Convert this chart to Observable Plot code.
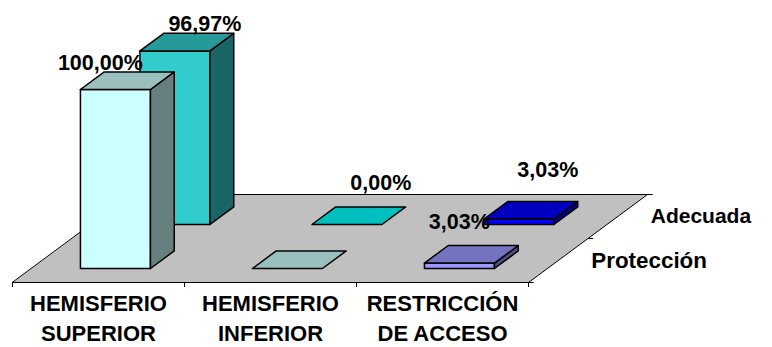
<!DOCTYPE html>
<html><head><meta charset="utf-8">
<script src="https://cdn.jsdelivr.net/npm/d3@7"></script>
<script src="https://cdn.jsdelivr.net/npm/@observablehq/plot@0.6"></script>
<style>html,body{margin:0;padding:0;background:#fff}svg{display:block}</style>
</head><body><script>
const categories = ["HEMISFERIO\nSUPERIOR", "HEMISFERIO\nINFERIOR", "RESTRICCIÓN\nDE ACCESO"];
const series = ["Protección", "Adecuada"];
const proteccion = [100, 0, 3.03];
const adecuada = [96.97, 0, 3.03];
const proteccionLabels = ["100,00%", "", "3,03%"];
const adecuadaLabels = ["96,97%", "0,00%", "3,03%"];

// Styling: [front, top, side] per series and category
const palette = [
  [["#CCFFFF","#99BFBF","#668080"],["#CCFFFF","#99BFBF","#668080"],["#9999FF","#7373BF","#4D4D80"]],
  [["#33CCCC","#269999","#1A6666"],["#00BFBF","#00BFBF","#006060"],["#0000FF","#0000BF","#000080"]]
];

// Oblique projection of (category position, depth in series, value) into chart units
const unitY = 1.79;
const depthX = 59.5 / 172, depthY = 44 / unitY;
const proj = (c, d, v) => ({x: c + d * depthX, y: v + d * depthY});
const barLeft = 0.285, barWidth = 0.407, barFront = 0.318, barDepth = 0.4;

const faces = [];
function face(id, color, corners) {
  for (const [c, d, v] of corners) faces.push({...proj(c, d, v), id, color});
}
const values = [proteccion, adecuada];
for (const s of [1, 0]) values[s].forEach((v, i) => {
  const [cf, ct, cs] = palette[s][i];
  const l = i + barLeft, r = l + barWidth, f = s + barFront, b = f + barDepth, key = `${s}-${i}`;
  if (v > 0) {
    face(key + "f", cf, [[l,f,0],[r,f,0],[r,f,v],[l,f,v]]);
    face(key + "s", cs, [[r,f,0],[r,b,0],[r,b,v],[r,f,v]]);
  }
  face(key + "t", ct, [[l,f,v],[r,f,v],[r,b,v],[l,b,v]]);
});

const floor = [[0,0],[3,0],[3,2],[0,2]].map(([c, d]) => proj(c, d, 0));
const depthTicks = [0, 1, 2].map(d => ({a: proj(3, d, 0), b: proj(3.03, d, 0)}));

// Hand placed data labels, as in the reference
const valueLabel = (s, i, text, dx, dy) => {
  const v = values[s][i], p = proj(i + barLeft + barWidth / 2, s + barFront + barDepth / 2, v);
  return Plot.text([p], {x: "x", y: "y", text: () => text, dx, dy, fontSize: 21.5, fontWeight: "bold", fill: "#000"});
};

const chart = Plot.plot({
  width: 772, height: 347, marginLeft: 12, marginRight: 0, marginTop: 0, marginBottom: 65,
  style: {fontFamily: "'Liberation Sans', Arial, sans-serif"},
  x: {type: "linear", domain: [0, 760 / 172], axis: null},
  y: {type: "linear", domain: [0, 282 / unitY], axis: null},
  marks: [
    Plot.line(floor, {x: "x", y: "y", fill: "#C0C0C0", stroke: "#000", strokeWidth: 1, curve: "linear-closed"}),
    Plot.link(depthTicks, {x1: d => d.a.x, y1: d => d.a.y, x2: d => d.b.x, y2: d => d.b.y, stroke: "#000", strokeWidth: 1}),
    Plot.line(faces, {x: "x", y: "y", z: "id", fill: "color", stroke: "#000", strokeWidth: 1.5, curve: "linear-closed"}),
    Plot.axisX({ticks: [0, 1, 2, 3], tickSize: 5, tickFormat: () => "", stroke: "#000", anchor: "bottom", label: null}),
    Plot.axisX({ticks: [0.5, 1.5, 2.5], tickSize: 0, tickPadding: 0, tickFormat: d => categories[Math.floor(d)],
      anchor: "bottom", label: null, fontSize: 22, fontWeight: "bold", fill: "#000", dy: 8, lineHeight: 1.33, textOverflow: null}),
    Plot.text(series, {
      x: (d, i) => proj(3, i + 0.5, 0).x, y: (d, i) => proj(3, i + 0.5, 0).y,
      text: d => d, dx: 33, textAnchor: "start", fontSize: (d, i) => [22.4, 21][i], fontWeight: "bold", fill: "#000"
    }),
    valueLabel(0, 0, proteccionLabels[0], -27, -18),
    valueLabel(1, 0, adecuadaLabels[0], 18, -18),
    valueLabel(1, 1, adecuadaLabels[1], 22, -33),
    valueLabel(0, 2, proteccionLabels[2], -12, -32),
    valueLabel(1, 2, adecuadaLabels[2], 17, -40)
  ]
});
document.body.appendChild(chart);
</script></body></html>
